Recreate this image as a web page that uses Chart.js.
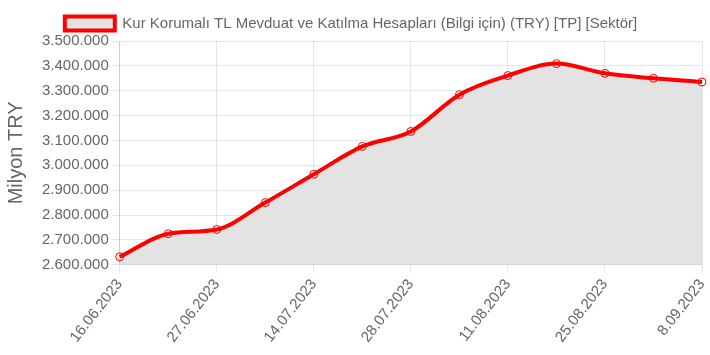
<!DOCTYPE html>
<html><head><meta charset="utf-8">
<script src="https://cdn.jsdelivr.net/npm/chart.js@4/dist/chart.umd.min.js"></script>
<style>html,body{margin:0;padding:0;background:#fff}#wrap{width:710px;height:355px}</style>
</head><body><div id="wrap"><canvas id="c"></canvas></div>
<script>
const categories = ["16.06.2023","23.06.2023","27.06.2023","7.07.2023","14.07.2023","21.07.2023","28.07.2023","4.08.2023","11.08.2023","18.08.2023","25.08.2023","1.09.2023","8.09.2023"];
const seriesName = "Kur Korumalı TL Mevduat ve Katılma Hesapları (Bilgi için) (TRY) [TP] [Sektör]";
const values = [2632000,2725000,2742000,2850000,2964000,3076000,3136000,3284000,3361000,3409000,3370000,3350000,3335000];
const yMin = 2600000, yMax = 3500000, yStep = 100000;
const yTitle = "Milyon TRY";

Chart.defaults.font.family = "'Liberation Sans', Arial, sans-serif";
Chart.defaults.color = "#666";
new Chart(document.getElementById('c'), {
  type: 'line',
  data: { labels: categories, datasets: [{
    label: seriesName, data: values,
    borderColor: '#ff0000', borderWidth: 4,
    backgroundColor: 'rgba(227,227,227,1)',
    fill: 'start', tension: 0.4, cubicInterpolationMode: 'monotone',
    pointRadius: 4, pointBorderWidth: 1, pointBorderColor: '#ff0000',
    pointBackgroundColor: 'rgba(0,0,0,0)'
  }]},
  options: {
    responsive: true, maintainAspectRatio: false, animation: false,
    layout: { padding: { right: 8, top: 4, bottom: 6 } },
    plugins: {
      legend: { position: 'top', labels: { boxWidth: 50, boxHeight: 14, padding: 12, font: { size: 15 }, color: '#666' } },
      tooltip: { enabled: false }
    },
    scales: {
      x: {
        afterFit: s => { s.paddingRight = 0; },
        grid: { color: 'rgba(0,0,0,0.1)' },
        ticks: { font: { size: 15 }, maxRotation: 52, minRotation: 52, autoSkip: true, maxTicksLimit: 7 }
      },
      y: {
        min: yMin, max: yMax,
        grid: { color: 'rgba(0,0,0,0.1)' },
        title: { display: true, text: yTitle, font: { size: 20 }, padding: { top: 4, bottom: 11 } },
        ticks: { stepSize: yStep, font: { size: 15 },
          callback: v => v.toLocaleString('tr-TR') }
      }
    }
  }
});
</script></body></html>
